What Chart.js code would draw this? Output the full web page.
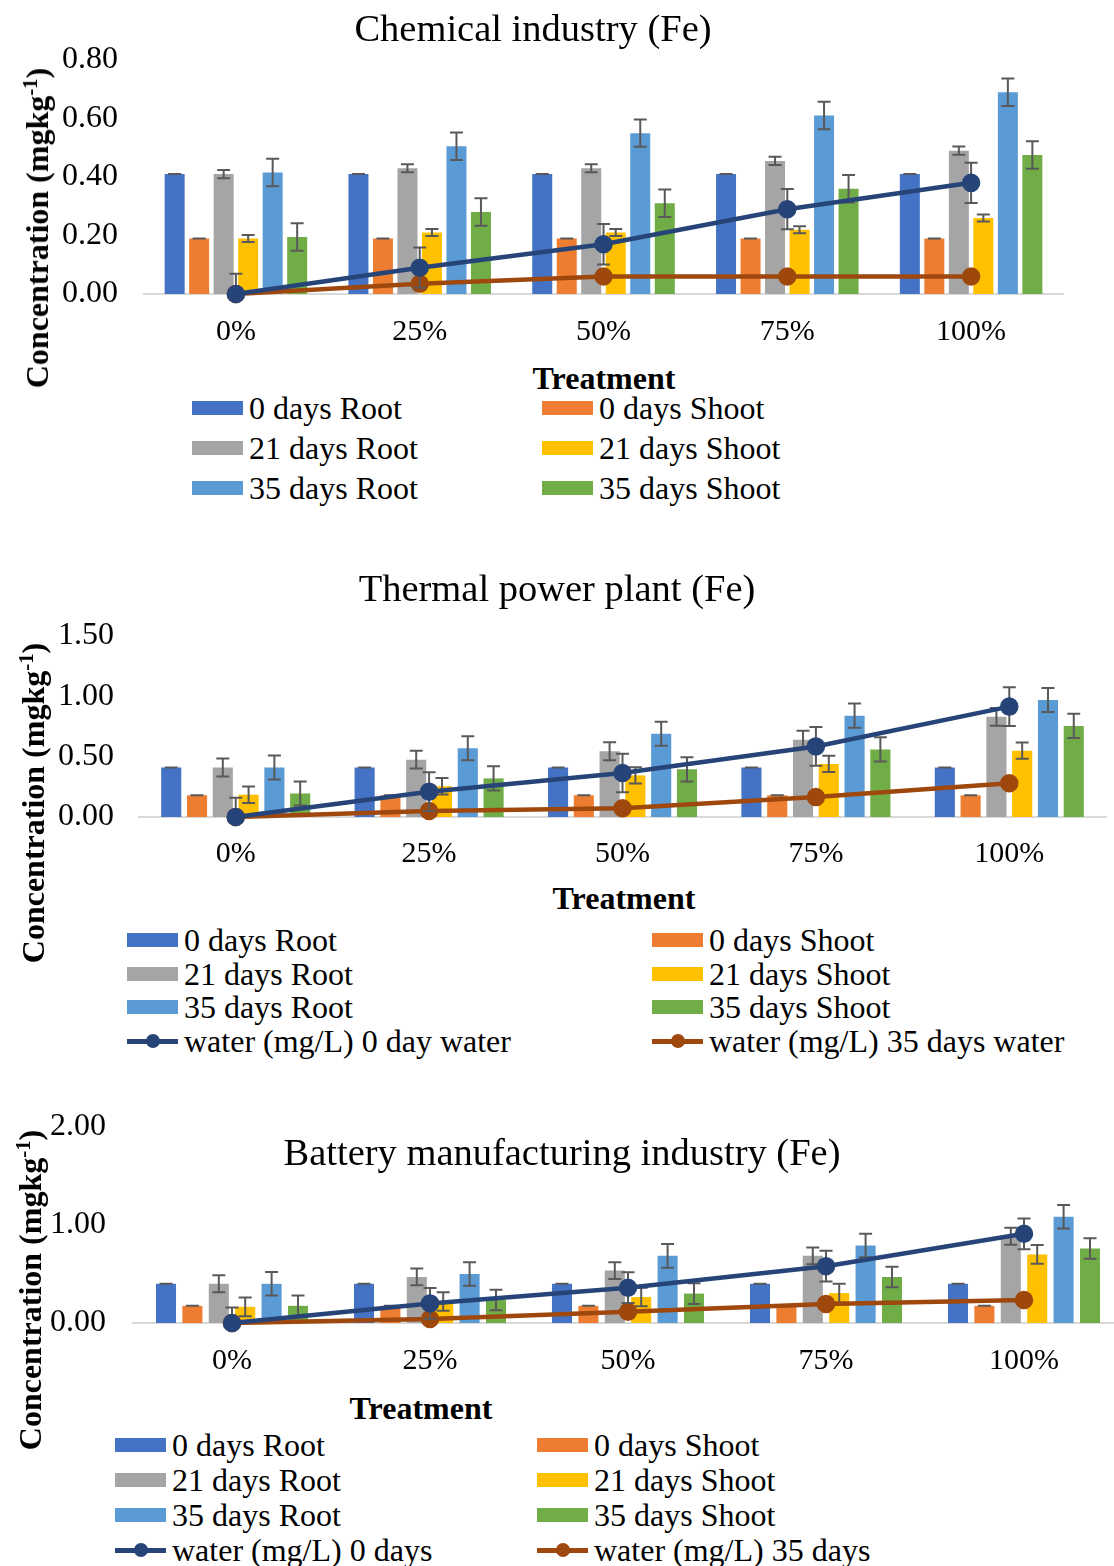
<!DOCTYPE html>
<html><head><meta charset="utf-8">
<script src="https://cdn.jsdelivr.net/npm/chart.js@4"></script>
<style>
html,body{margin:0;padding:0;background:#fff;overflow:hidden;width:1114px;height:1566px;}
body{position:relative;font-family:"Liberation Serif","Times New Roman",serif;color:#000;}
canvas{position:absolute;left:0;}
.t{position:absolute;white-space:nowrap;line-height:1;z-index:2;}
.title{font-size:38.5px;transform:translate(-50%,-50%);}
.xt{font-size:32px;font-weight:bold;transform:translate(-50%,-50%);}
.yt{font-size:32px;font-weight:bold;transform:translate(-50%,-50%) rotate(-90deg);}
.yt sup{font-size:0.65em;line-height:0;vertical-align:0.55em;}
.lg{position:absolute;display:flex;align-items:center;height:32px;font-size:32px;white-space:nowrap;line-height:1;z-index:2;transform:translateY(-50%);}
.sw{width:51px;height:14px;margin-right:6px;flex:none;}
.ln{width:51px;height:14px;margin-right:6px;flex:none;position:relative;}
.ln .bar{position:absolute;left:0;right:0;top:5px;height:4.5px;}
.ln .dot{position:absolute;left:18.5px;top:0;width:14px;height:14px;border-radius:50%;}
</style></head>
<body>
<canvas id="c1" width="1140" height="360" style="top:0px"></canvas>
<canvas id="c2" width="1140" height="320" style="top:560px"></canvas>
<canvas id="c3" width="1140" height="310" style="top:1080px"></canvas>

<div class="t title" style="left:533px;top:28px">Chemical industry (Fe)</div>
<div class="t xt" style="left:604px;top:378px">Treatment</div>
<div class="t yt" style="left:37px;top:228px">Concentration (mgkg<sup>-1</sup>)</div>

<div class="t title" style="left:557px;top:588px">Thermal power plant (Fe)</div>
<div class="t xt" style="left:624px;top:898px">Treatment</div>
<div class="t yt" style="left:33px;top:803px">Concentration (mgkg<sup>-1</sup>)</div>

<div class="t title" style="left:562px;top:1152px">Battery manufacturing industry (Fe)</div>
<div class="t xt" style="left:421px;top:1408px">Treatment</div>
<div class="t yt" style="left:30px;top:1290px">Concentration (mgkg<sup>-1</sup>)</div>

<script>
// ---------- data ----------
const categories = ['0%', '25%', '50%', '75%', '100%'];
const seriesNames = ['0 days Root', '0 days Shoot', '21 days Root', '21 days Shoot', '35 days Root', '35 days Shoot'];

// Chemical industry (Fe)
const chemRoot0   = [0.41, 0.41, 0.41, 0.41, 0.41];
const chemShoot0  = [0.19, 0.19, 0.19, 0.19, 0.19];
const chemRoot21  = [0.41, 0.43, 0.43, 0.455, 0.49];
const chemShoot21 = [0.19, 0.21, 0.21, 0.22, 0.26];
const chemRoot35  = [0.415, 0.505, 0.55, 0.61, 0.69];
const chemShoot35 = [0.195, 0.28, 0.31, 0.36, 0.475];
const chemWater0  = [0, 0.09, 0.17, 0.29, 0.38];
const chemWater35 = [0, 0.035, 0.06, 0.06, 0.06];
const chemErr     = [0, 0, 0.014, 0.012, 0.047, 0.047, 0.069, null];
const chemTicks   = [0, 0.8, 0.2];

// Thermal power plant (Fe)
const thermRoot0   = [0.41, 0.41, 0.41, 0.41, 0.41];
const thermShoot0  = [0.18, 0.18, 0.18, 0.18, 0.18];
const thermRoot21  = [0.41, 0.475, 0.545, 0.64, 0.83];
const thermShoot21 = [0.185, 0.255, 0.345, 0.44, 0.55];
const thermRoot35  = [0.41, 0.57, 0.69, 0.84, 0.97];
const thermShoot35 = [0.195, 0.32, 0.395, 0.56, 0.755];
const thermWater0  = [0, 0.21, 0.365, 0.585, 0.915];
const thermWater35 = [0, 0.05, 0.072, 0.165, 0.28];
const thermErr     = [0, 0, 0.074, 0.068, 0.10, 0.10, 0.16, null];
const thermTicks   = [0, 1.5, 0.5];
const thermWaterNames = ['water (mg/L) 0 day water', 'water (mg/L) 35 days water'];

// Battery manufacturing industry (Fe)
const battRoot0   = [0.40, 0.40, 0.40, 0.40, 0.40];
const battShoot0  = [0.175, 0.175, 0.175, 0.175, 0.175];
const battRoot21  = [0.40, 0.47, 0.535, 0.685, 0.885];
const battShoot21 = [0.165, 0.22, 0.265, 0.305, 0.70];
const battRoot35  = [0.40, 0.50, 0.685, 0.79, 1.085];
const battShoot35 = [0.175, 0.235, 0.30, 0.47, 0.76];
const battWater0  = [0, 0.20, 0.36, 0.58, 0.91];
const battWater35 = [0, 0.04, 0.115, 0.195, 0.235];
const battErr     = [0, 0, 0.086, 0.095, 0.12, 0.105, 0.157, null];
const battTicks   = [0, 2, 1];
const battWaterNames = ['water (mg/L) 0 days', 'water (mg/L) 35 days'];

// ---------- styles ----------
const barColors = ['#4472C4', '#ED7D31', '#A5A5A5', '#FFC000', '#5B9BD5', '#70AD47'];
const lineColors = ['#264478', '#9E480E'];
const FONT = '"Liberation Serif","Times New Roman",serif';

Chart.defaults.font.family = FONT;
Chart.defaults.color = '#000';

function drawErr(chart, idx) {
  const ds = chart.data.datasets[idx];
  if (ds.err == null) return;
  const meta = chart.getDatasetMeta(idx);
  const ys = chart.scales.y, a = chart.chartArea, ctx = chart.ctx;
  ctx.save();
  ctx.beginPath();
  ctx.rect(a.left, a.top - 30, a.right - a.left, a.bottom - a.top + 30);
  ctx.clip();
  ctx.strokeStyle = '#595959';
  ctx.lineWidth = 2;
  meta.data.forEach((el, j) => {
    const v = ds.data[j];
    const x = el.x;
    const y1 = ys.getPixelForValue(v + ds.err);
    const y2 = ys.getPixelForValue(v - ds.err);
    ctx.beginPath();
    ctx.moveTo(x, y1); ctx.lineTo(x, y2);
    ctx.moveTo(x - 6.5, y1); ctx.lineTo(x + 6.5, y1);
    ctx.moveTo(x - 6.5, y2); ctx.lineTo(x + 6.5, y2);
    ctx.stroke();
  });
  ctx.restore();
}
const errorBars = {
  id: 'errorBars',
  beforeDatasetDraw(chart, args) { if (chart.data.datasets[args.index].type === 'line') drawErr(chart, args.index); },
  afterDatasetDraw(chart, args) { if (chart.data.datasets[args.index].type !== 'line') drawErr(chart, args.index); }
};

function makeChart(id, bars, waters, errs, ticks, geo) {
  const datasets = bars.map((d, i) => ({
    type: 'bar', label: seriesNames[i], data: d, backgroundColor: barColors[i],
    err: errs[i], order: 1, categoryPercentage: 0.8, barPercentage: geo.barPct
  }));
  waters.forEach((d, i) => datasets.push({
    type: 'line', label: 'water ' + i, data: d, borderColor: lineColors[i], backgroundColor: lineColors[i],
    pointBackgroundColor: lineColors[i], pointBorderColor: lineColors[i], pointRadius: 7, pointHoverRadius: 7,
    borderWidth: 4.5, tension: 0, err: errs[6 + i], order: 0, clip: false
  }));
  return new Chart(document.getElementById(id), {
    type: 'bar',
    data: { labels: categories, datasets },
    options: {
      responsive: false, animation: false, devicePixelRatio: 1,
      layout: { padding: { top: geo.top, right: geo.right, left: 0, bottom: 0 } },
      plugins: { legend: { display: false }, title: { display: false }, tooltip: { enabled: false } },
      scales: {
        x: {
          grid: { display: false, drawTicks: false },
          border: { display: true, color: '#D9D9D9', width: 2 },
          ticks: { font: { size: 30 }, padding: geo.xpad, color: '#000', maxRotation: 0 },
          afterFit(s) { s.height = geo.xh; }
        },
        y: {
          min: ticks[0], max: ticks[1],
          grid: { display: false, drawTicks: false },
          border: { display: false },
          ticks: { stepSize: ticks[2], font: { size: 32 }, padding: geo.ypad, color: '#000',
                   callback: v => Number(v).toFixed(2) },
          afterFit(s) { s.width = geo.yw; }
        }
      }
    },
    plugins: [errorBars]
  });
}

makeChart('c1',
  [chemRoot0, chemShoot0, chemRoot21, chemShoot21, chemRoot35, chemShoot35],
  [chemWater0, chemWater35], chemErr, chemTicks,
  { top: 60, right: 77, xh: 66, yw: 144, xpad: 20, ypad: 26, barPct: 0.816 });

makeChart('c2',
  [thermRoot0, thermShoot0, thermRoot21, thermShoot21, thermRoot35, thermShoot35],
  [thermWater0, thermWater35], thermErr, thermTicks,
  { top: 76, right: 34, xh: 63, yw: 139, xpad: 19, ypad: 25, barPct: 0.78 });

makeChart('c3',
  [battRoot0, battShoot0, battRoot21, battShoot21, battRoot35, battShoot35],
  [battWater0, battWater35], battErr, battTicks,
  { top: 47, right: 17, xh: 67, yw: 133, xpad: 20, ypad: 27, barPct: 0.76 });

// ---------- legends (HTML) ----------
function legend(items, cols, rows) {
  items.forEach((it, k) => {
    const d = document.createElement('div');
    d.className = 'lg';
    d.style.left = cols[k % 2] + 'px';
    d.style.top = rows[Math.floor(k / 2)] + 'px';
    let sym;
    if (it.line) {
      sym = document.createElement('div'); sym.className = 'ln';
      const b = document.createElement('div'); b.className = 'bar'; b.style.background = it.color;
      const p = document.createElement('div'); p.className = 'dot'; p.style.background = it.color;
      sym.appendChild(b); sym.appendChild(p);
    } else {
      sym = document.createElement('div'); sym.className = 'sw'; sym.style.background = it.color;
    }
    d.appendChild(sym);
    const s = document.createElement('span'); s.textContent = it.label;
    d.appendChild(s);
    document.body.appendChild(d);
  });
}
const barItems = seriesNames.map((n, i) => ({ label: n, color: barColors[i] }));
legend(barItems, [192, 542], [408, 448, 488]);
legend(barItems.concat(thermWaterNames.map((n, i) => ({ label: n, color: lineColors[i], line: true }))),
  [127, 652], [940, 974, 1007, 1041]);
legend(barItems.concat(battWaterNames.map((n, i) => ({ label: n, color: lineColors[i], line: true }))),
  [115, 537], [1445, 1480, 1515, 1550]);
</script>
</body></html>
